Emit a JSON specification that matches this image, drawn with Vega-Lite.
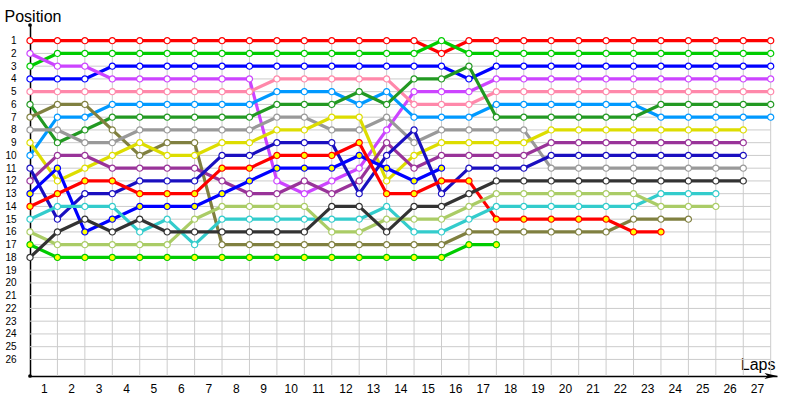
{
  "$schema": "https://vega.github.io/schema/vega-lite/v6.json",
  "width": 747,
  "height": 351,
  "autosize": {"type": "none"},
  "padding": {"left": 30, "top": 25, "right": 23, "bottom": 24},
  "background": "white",
  "config": {"view": {"stroke": null}, "font": "Liberation Sans"},
  "datasets": {
    "laps": [
      {"lap": 0, "red": 1, "green": 3, "blue": 4, "violet": 2, "pink": 5, "ltblue": 10, "dkgreen": 6, "olive": 7, "grey": 8, "yellow": 9, "dkpurple": 12, "navy": 11, "bluey": 13, "redy": 14, "cyan": 15, "ltolive": 16, "greeny": 17, "black": 18},
      {"lap": 1, "red": 1, "green": 2, "blue": 4, "violet": 3, "pink": 5, "ltblue": 7, "dkgreen": 9, "olive": 6, "grey": 8, "yellow": 12, "dkpurple": 10, "navy": 15, "bluey": 11, "redy": 13, "cyan": 14, "ltolive": 17, "greeny": 18, "black": 16},
      {"lap": 2, "red": 1, "green": 2, "blue": 4, "violet": 3, "pink": 5, "ltblue": 7, "dkgreen": 8, "olive": 6, "grey": 9, "yellow": 11, "dkpurple": 10, "navy": 13, "bluey": 16, "redy": 12, "cyan": 14, "ltolive": 17, "greeny": 18, "black": 15},
      {"lap": 3, "red": 1, "green": 2, "blue": 3, "violet": 4, "pink": 5, "ltblue": 6, "dkgreen": 7, "olive": 8, "grey": 9, "yellow": 10, "dkpurple": 11, "navy": 13, "bluey": 15, "redy": 12, "cyan": 14, "ltolive": 17, "greeny": 18, "black": 16},
      {"lap": 4, "red": 1, "green": 2, "blue": 3, "violet": 4, "pink": 5, "ltblue": 6, "dkgreen": 7, "olive": 10, "grey": 8, "yellow": 9, "dkpurple": 11, "navy": 12, "bluey": 14, "redy": 13, "cyan": 16, "ltolive": 17, "greeny": 18, "black": 15},
      {"lap": 5, "red": 1, "green": 2, "blue": 3, "violet": 4, "pink": 5, "ltblue": 6, "dkgreen": 7, "olive": 9, "grey": 8, "yellow": 10, "dkpurple": 11, "navy": 12, "bluey": 14, "redy": 13, "cyan": 15, "ltolive": 17, "greeny": 18, "black": 16},
      {"lap": 6, "red": 1, "green": 2, "blue": 3, "violet": 4, "pink": 5, "ltblue": 6, "dkgreen": 7, "olive": 9, "grey": 8, "yellow": 10, "dkpurple": 11, "navy": 12, "bluey": 14, "redy": 13, "cyan": 17, "ltolive": 15, "greeny": 18, "black": 16},
      {"lap": 7, "red": 1, "green": 2, "blue": 3, "violet": 4, "pink": 5, "ltblue": 6, "dkgreen": 7, "olive": 17, "grey": 8, "yellow": 9, "dkpurple": 12, "navy": 10, "bluey": 13, "redy": 11, "cyan": 15, "ltolive": 14, "greeny": 18, "black": 16},
      {"lap": 8, "red": 1, "green": 2, "blue": 3, "violet": 4, "pink": 5, "ltblue": 6, "dkgreen": 7, "olive": 17, "grey": 8, "yellow": 9, "dkpurple": 13, "navy": 10, "bluey": 12, "redy": 11, "cyan": 15, "ltolive": 14, "greeny": 18, "black": 16},
      {"lap": 9, "red": 1, "green": 2, "blue": 3, "violet": 12, "pink": 4, "ltblue": 5, "dkgreen": 6, "olive": 17, "grey": 7, "yellow": 8, "dkpurple": 13, "navy": 9, "bluey": 11, "redy": 10, "cyan": 15, "ltolive": 14, "greeny": 18, "black": 16},
      {"lap": 10, "red": 1, "green": 2, "blue": 3, "violet": 13, "pink": 4, "ltblue": 5, "dkgreen": 6, "olive": 17, "grey": 7, "yellow": 8, "dkpurple": 12, "navy": 9, "bluey": 11, "redy": 10, "cyan": 15, "ltolive": 14, "greeny": 18, "black": 16},
      {"lap": 11, "red": 1, "green": 2, "blue": 3, "violet": 12, "pink": 4, "ltblue": 5, "dkgreen": 6, "olive": 17, "grey": 8, "yellow": 7, "dkpurple": 13, "navy": 9, "bluey": 11, "redy": 10, "cyan": 15, "ltolive": 16, "greeny": 18, "black": 14},
      {"lap": 12, "red": 1, "green": 2, "blue": 3, "violet": 11, "pink": 4, "ltblue": 6, "dkgreen": 5, "olive": 17, "grey": 8, "yellow": 7, "dkpurple": 12, "navy": 13, "bluey": 10, "redy": 9, "cyan": 15, "ltolive": 16, "greeny": 18, "black": 14},
      {"lap": 13, "red": 1, "green": 2, "blue": 3, "violet": 8, "pink": 4, "ltblue": 5, "dkgreen": 6, "olive": 17, "grey": 7, "yellow": 12, "dkpurple": 9, "navy": 10, "bluey": 11, "redy": 13, "cyan": 14, "ltolive": 15, "greeny": 18, "black": 16},
      {"lap": 14, "red": 1, "green": 2, "blue": 3, "violet": 5, "pink": 6, "ltblue": 7, "dkgreen": 4, "olive": 17, "grey": 9, "yellow": 10, "dkpurple": 11, "navy": 8, "bluey": 12, "redy": 13, "cyan": 16, "ltolive": 15, "greeny": 18, "black": 14},
      {"lap": 15, "red": 2, "green": 1, "blue": 3, "violet": 5, "pink": 6, "ltblue": 7, "dkgreen": 4, "olive": 17, "grey": 8, "yellow": 9, "dkpurple": 10, "navy": 13, "bluey": 11, "redy": 12, "cyan": 16, "ltolive": 15, "greeny": 18, "black": 14},
      {"lap": 16, "red": 1, "green": 2, "blue": 4, "violet": 5, "pink": 6, "ltblue": 7, "dkgreen": 3, "olive": 16, "grey": 8, "yellow": 9, "dkpurple": 10, "navy": 11, "redy": 12, "cyan": 15, "ltolive": 14, "greeny": 17, "black": 13},
      {"lap": 17, "red": 1, "green": 2, "blue": 3, "violet": 4, "pink": 5, "ltblue": 6, "dkgreen": 7, "olive": 16, "grey": 8, "yellow": 9, "dkpurple": 10, "navy": 11, "redy": 15, "cyan": 14, "ltolive": 13, "greeny": 17, "black": 12},
      {"lap": 18, "red": 1, "green": 2, "blue": 3, "violet": 4, "pink": 5, "ltblue": 6, "dkgreen": 7, "olive": 16, "grey": 8, "yellow": 9, "dkpurple": 10, "navy": 11, "redy": 15, "cyan": 14, "ltolive": 13, "black": 12},
      {"lap": 19, "red": 1, "green": 2, "blue": 3, "violet": 4, "pink": 5, "ltblue": 6, "dkgreen": 7, "olive": 16, "grey": 11, "yellow": 8, "dkpurple": 9, "navy": 10, "redy": 15, "cyan": 14, "ltolive": 13, "black": 12},
      {"lap": 20, "red": 1, "green": 2, "blue": 3, "violet": 4, "pink": 5, "ltblue": 6, "dkgreen": 7, "olive": 16, "grey": 11, "yellow": 8, "dkpurple": 9, "navy": 10, "redy": 15, "cyan": 14, "ltolive": 13, "black": 12},
      {"lap": 21, "red": 1, "green": 2, "blue": 3, "violet": 4, "pink": 5, "ltblue": 6, "dkgreen": 7, "olive": 16, "grey": 11, "yellow": 8, "dkpurple": 9, "navy": 10, "redy": 15, "cyan": 14, "ltolive": 13, "black": 12},
      {"lap": 22, "red": 1, "green": 2, "blue": 3, "violet": 4, "pink": 5, "ltblue": 6, "dkgreen": 7, "olive": 15, "grey": 11, "yellow": 8, "dkpurple": 9, "navy": 10, "redy": 16, "cyan": 14, "ltolive": 13, "black": 12},
      {"lap": 23, "red": 1, "green": 2, "blue": 3, "violet": 4, "pink": 5, "ltblue": 7, "dkgreen": 6, "olive": 15, "grey": 11, "yellow": 8, "dkpurple": 9, "navy": 10, "redy": 16, "cyan": 13, "ltolive": 14, "black": 12},
      {"lap": 24, "red": 1, "green": 2, "blue": 3, "violet": 4, "pink": 5, "ltblue": 7, "dkgreen": 6, "olive": 15, "grey": 11, "yellow": 8, "dkpurple": 9, "navy": 10, "cyan": 13, "ltolive": 14, "black": 12},
      {"lap": 25, "red": 1, "green": 2, "blue": 3, "violet": 4, "pink": 5, "ltblue": 7, "dkgreen": 6, "grey": 11, "yellow": 8, "dkpurple": 9, "navy": 10, "cyan": 13, "ltolive": 14, "black": 12},
      {"lap": 26, "red": 1, "green": 2, "blue": 3, "violet": 4, "pink": 5, "ltblue": 7, "dkgreen": 6, "grey": 11, "yellow": 8, "dkpurple": 9, "navy": 10, "black": 12},
      {"lap": 27, "red": 1, "green": 2, "blue": 3, "violet": 4, "pink": 5, "ltblue": 7, "dkgreen": 6}
    ],
    "grid": [
      {"n": 1}, {"n": 2}, {"n": 3}, {"n": 4}, {"n": 5}, {"n": 6}, {"n": 7}, {"n": 8}, {"n": 9},
      {"n": 10}, {"n": 11}, {"n": 12}, {"n": 13}, {"n": 14}, {"n": 15}, {"n": 16}, {"n": 17}, {"n": 18},
      {"n": 19}, {"n": 20}, {"n": 21}, {"n": 22}, {"n": 23}, {"n": 24}, {"n": 25}, {"n": 26}, {"n": 27}
    ]
  },
  "layer": [
    {
      "data": {"name": "grid"},
      "mark": {"type": "rule", "color": "#cccccc", "strokeWidth": 1},
      "encoding": {
        "x": {
          "field": "n", "type": "quantitative",
          "scale": {"domain": [0, 27.23], "nice": false, "zero": false},
          "axis": {
            "orient": "bottom",
            "values": [1, 2, 3, 4, 5, 6, 7, 8, 9, 10, 11, 12, 13, 14, 15, 16, 17, 18, 19, 20, 21, 22, 23, 24, 25, 26, 27],
            "labelOffset": -13.7, "labelFontSize": 12, "labelPadding": 7, "labelColor": "#000000",
            "labelFlush": false, "labelOverlap": false,
            "ticks": false, "grid": false, "domainColor": "#000000", "domainWidth": 1.5,
            "title": "Laps", "titleX": 745, "titleY": -7, "titleAlign": "right", "titleBaseline": "alphabetic",
            "titleFontSize": 16, "titleFontWeight": "normal", "titleColor": "#000000"
          }
        },
        "y": {
          "datum": 1, "type": "quantitative",
          "scale": {"domain": [-0.23, 27.3], "reverse": true, "nice": false, "zero": false},
          "axis": null
        },
        "y2": {"datum": 27.3}
      }
    },
    {
      "data": {"name": "grid"},
      "transform": [{"filter": "datum.n <= 26"}],
      "mark": {"type": "rule", "color": "#cccccc", "strokeWidth": 1},
      "encoding": {
        "y": {
          "field": "n", "type": "quantitative",
          "axis": {
            "orient": "left",
            "values": [1, 2, 3, 4, 5, 6, 7, 8, 9, 10, 11, 12, 13, 14, 15, 16, 17, 18, 19, 20, 21, 22, 23, 24, 25, 26],
            "labelFontSize": 10, "labelPadding": 14, "labelColor": "#000000", "labelFlush": false, "labelOverlap": false,
            "ticks": false, "grid": false, "domainColor": "#000000", "domainWidth": 1.5,
            "title": "Position", "titleAngle": 0, "titleAlign": "left", "titleBaseline": "alphabetic",
            "titleX": -26, "titleY": -4, "titleFontSize": 16, "titleFontWeight": "normal", "titleColor": "#000000"
          }
        },
        "x": {"datum": 0, "type": "quantitative", "axis": null},
        "x2": {"datum": 27}
      }
    },
    {
      "data": {"name": "laps"},
      "transform": [
        {"fold": ["red", "green", "blue", "violet", "pink", "ltblue", "dkgreen", "olive", "grey", "yellow", "dkpurple", "navy", "bluey", "redy", "cyan", "ltolive", "greeny", "black"], "as": ["driver", "pos"]},
        {"filter": "isValid(datum.pos)"}
      ],
      "layer": [
        {
          "mark": {"type": "line", "strokeWidth": 3.2, "strokeJoin": "round"},
          "encoding": {
            "x": {"field": "lap", "type": "quantitative", "axis": null},
            "y": {
              "field": "pos", "type": "quantitative",
              "axis": {
                "orient": "right",
                "values": [1, 2, 3, 4, 5, 6, 7, 8, 9, 10, 11, 12, 13, 14, 15, 16, 17, 18, 19, 20, 21, 22, 23, 24, 25, 26],
                "domain": false, "ticks": false, "grid": false, "labelAlign": "left", "labelPadding": 1,
                "labelFontSize": 10, "labelColor": "#000000", "labelFlush": false, "labelOverlap": false, "title": null
              }
            },
            "stroke": {
              "field": "driver", "type": "nominal", "legend": null,
              "scale": {
                "domain": ["red", "green", "blue", "violet", "pink", "ltblue", "dkgreen", "olive", "grey", "yellow", "dkpurple", "navy", "bluey", "redy", "cyan", "ltolive", "greeny", "black"],
                "range": ["#ff0000", "#00cc00", "#0000ff", "#cc44ff", "#ff88aa", "#0099ff", "#229922", "#808040", "#999999", "#dddd00", "#993399", "#1a0fc0", "#0000ff", "#ff0000", "#33cccc", "#aacc66", "#00cc00", "#333333"]
              }
            },
            "order": {"field": "lap", "type": "quantitative"}
          }
        },
        {
          "mark": {"type": "point", "shape": "circle", "filled": true, "size": 38, "strokeWidth": 1.2, "opacity": 1},
          "encoding": {
            "x": {"field": "lap", "type": "quantitative", "axis": null},
            "y": {"field": "pos", "type": "quantitative", "axis": null},
            "stroke": {"field": "driver", "type": "nominal", "legend": null},
            "fill": {
              "field": "driver", "type": "nominal", "legend": null,
              "scale": {
                "domain": ["red", "green", "blue", "violet", "pink", "ltblue", "dkgreen", "olive", "grey", "yellow", "dkpurple", "navy", "bluey", "redy", "cyan", "ltolive", "greeny", "black"],
                "range": ["#ffffff", "#ffffff", "#ffffff", "#ffffff", "#ffffff", "#ffffff", "#ffffff", "#ffffff", "#ffffff", "#ffffff", "#ffffff", "#ffffff", "#ffff00", "#ffff00", "#ffffff", "#ffffff", "#ffff00", "#ffffff"]
              }
            }
          }
        }
      ]
    },
    {
      "data": {"values": [{}]},
      "mark": {"type": "point", "shape": "M-1,-0.45L1,0L-1,0.45L-0.5,0Z", "filled": true, "color": "#000000", "size": 169, "opacity": 1},
      "encoding": {
        "x": {"datum": 27.01, "type": "quantitative", "axis": null},
        "y": {"datum": 27.3, "type": "quantitative", "axis": null}
      }
    },
    {
      "data": {"values": [{}]},
      "mark": {"type": "point", "shape": "circle", "filled": true, "color": "#000000", "size": 14, "opacity": 1},
      "encoding": {
        "x": {"datum": 0, "type": "quantitative", "axis": null},
        "y": {"datum": -0.23, "type": "quantitative", "axis": null}
      }
    },
    {
      "data": {"values": [{}]},
      "mark": {"type": "point", "shape": "circle", "filled": true, "color": "#000000", "size": 14, "opacity": 1},
      "encoding": {
        "x": {"datum": 0, "type": "quantitative", "axis": null},
        "y": {"datum": 27.3, "type": "quantitative", "axis": null}
      }
    }
  ],
  "resolve": {"axis": {"x": "independent", "y": "independent"}}
}
